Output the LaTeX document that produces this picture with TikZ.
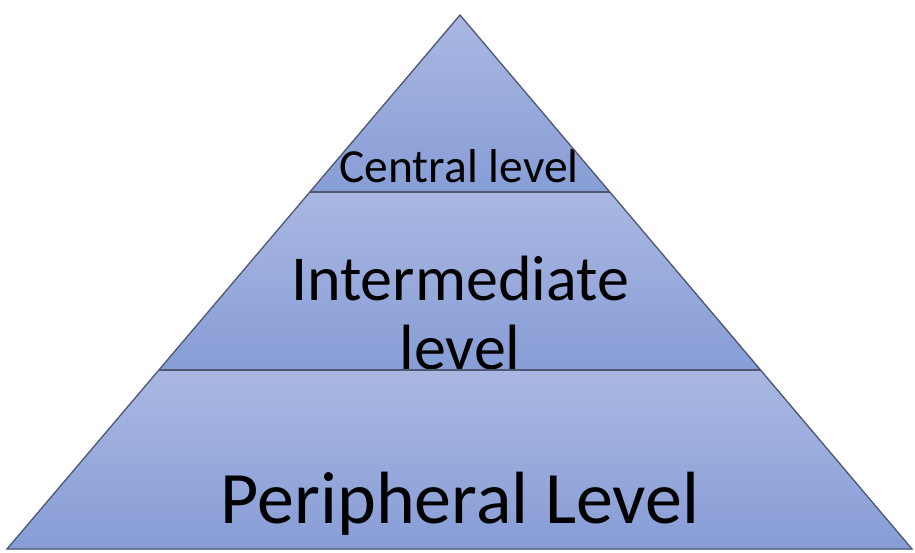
\documentclass[tikz,border=0pt]{standalone}
\usepackage{fontspec}
\setmainfont{Carlito}
\definecolor{tiertop}{RGB}{170,183,226}
\definecolor{tierbot}{RGB}{135,157,214}
\definecolor{edge}{RGB}{78,88,112}
\tikzset{
  tier/.style={top color=tiertop, bottom color=tierbot, draw=none},
  rim/.style={draw=edge, line width=1.3pt, line join=miter},
}
\begin{document}
\begin{tikzpicture}[x=1pt, y=-1pt]
  \useasboundingbox (0,0) rectangle (915,552);
  \coordinate (apex) at (460,15);
  \coordinate (bl) at (7,549);
  \coordinate (br) at (912,549);
  \coordinate (cl) at (310,192);
  \coordinate (cr) at (610,192);
  \coordinate (il) at (159,370);
  \coordinate (ir) at (761,370);

  % tiers
  \fill[tier] (apex) -- (cr) -- (cl) -- cycle;
  \fill[tier] (cl) -- (cr) -- (ir) -- (il) -- cycle;
  \fill[tier] (il) -- (ir) -- (br) -- (bl) -- cycle;

  \node[anchor=base, inner sep=0pt] (central) at (459,182)
    {\fontsize{47.5}{52}\selectfont Central level};
  \node[anchor=base, inner sep=0pt, align=center,
        font=\fontsize{64}{69}\selectfont] (inter) at (460,369)
    {Intermediate\\level};
  \node[anchor=base, inner sep=0pt] (periph) at (460,523)
    {\fontsize{74}{80}\selectfont Peripheral Level};

  % outline
  \draw[rim] (apex) -- (br) -- (bl) -- cycle;
  \draw[rim] (cl) -- (cr);
  \draw[rim] (il) -- (ir);
\end{tikzpicture}
\end{document}
